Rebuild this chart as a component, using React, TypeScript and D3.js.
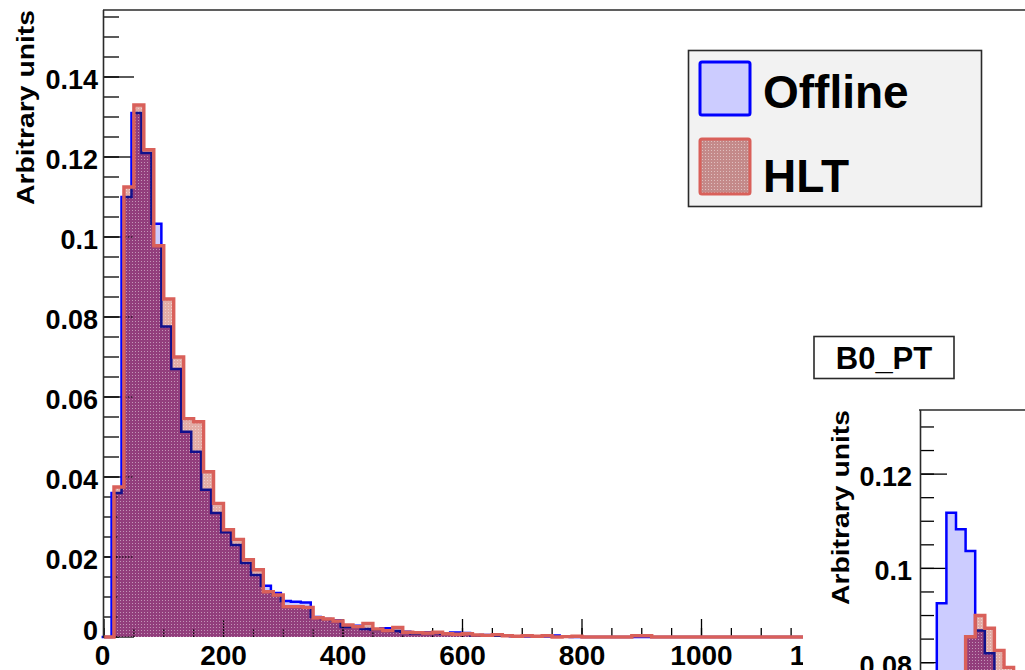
import React from "react";
import * as d3 from "d3";

// ---------- data ----------
const BIN_COUNT = 72;
const X_MIN = 0;
const X_BINNED_MAX = 1200;
const X_AXIS_MAX = 2000;
const X_LABEL_MAX = 1200;
const Y_MAX = 0.15675;

// Offline (blue) and HLT (red) normalized B0 pT histograms, 72 bins over 0..1200
const offline = [
  0, 0.036, 0.11, 0.131, 0.121, 0.1033, 0.0776, 0.067, 0.0513, 0.0463,
  0.0368, 0.031, 0.0262, 0.023, 0.0185, 0.0155, 0.0128, 0.011, 0.009, 0.0088,
  0.0086, 0.005, 0.0045, 0.0042, 0.0025, 0.0028, 0.002, 0.0018, 0.0022, 0.0015,
  0.0013, 0.0009, 0.0012, 0.001, 0.0008, 0.0011, 0.001, 0.0004, 0.0005, 0.0003,
  0.0004, 0.0002, 0.0001, 0.0002, 0.0001, 0.0004, 0.0001, 0, 0, 0,
  0, 0, 0, 0, 0, 0, 0, 0, 0, 0,
  0, 0, 0, 0, 0, 0, 0, 0, 0, 0,
  0, 0,
];
const hlt = [
  0, 0.0375, 0.1125, 0.133, 0.1218, 0.0978, 0.0845, 0.07, 0.0546, 0.0538,
  0.0413, 0.0334, 0.0268, 0.0244, 0.0193, 0.0168, 0.0113, 0.0105, 0.0076, 0.0076,
  0.0074, 0.0048, 0.0045, 0.004, 0.003, 0.0026, 0.0034, 0.002, 0.0016, 0.0024,
  0.0012, 0.0011, 0.001, 0.0012, 0.0008, 0.0007, 0.0008, 0.0005, 0.0004, 0.0006,
  0.0003, 0.0002, 0.0003, 0.0002, 0.0003, 0, 0.0001, 0.0002, 0, 0,
  0, 0, 0, 0.0003, 0.0003, 0, 0, 0, 0, 0,
  0, 0, 0, 0, 0, 0, 0, 0, 0, 0,
  0, 0,
];
const OFFLINE_SHIFT = -4; // drawing offset of the Offline histogram (x units)

const xMajorTicks = d3.range(0, X_LABEL_MAX + 1, 200);
const xMinorTicks = d3.range(0, X_LABEL_MAX + 1, 50);
const yMajorTicks = [0, 0.02, 0.04, 0.06, 0.08, 0.1, 0.12, 0.14];
const yMinorTicks = d3.range(0, 0.1551, 0.005);
const yTickLabels = ["0", "0.02", "0.04", "0.06", "0.08", "0.1", "0.12", "0.14"];

const legendEntries = ["Offline", "HLT"];
const yTitle = "Arbitrary units";
const insetTitle = "B0_PT";

// inset (second pad) data
const insetOffline = [0.0926, 0.1118, 0.1083, 0.1037, 0.0868, 0.082, 0.078, 0.072, 0.068, 0.064];
const insetHlt = [0, 0, 0, 0.0855, 0.09, 0.0873, 0.0826, 0.079, 0.075, 0.07];
const insetYMajor = [0.08, 0.1, 0.12];
const insetYLabels = ["0.08", "0.1", "0.12"];
const insetYMinor = d3.range(0.06, 0.1336, 0.005);
const INSET_BIN_START = 1.75;
const INSET_Y_MAX = 0.1336;

// ---------- styles ----------
const FONT = "'Liberation Sans', Arial, Helvetica, sans-serif";
const BLUE = "#0000ff";
const NAVY = "#10108c";
const BLUE_FILL = "#ccccff";
const RED = "#d9605a";
const PINK_FILL = "rgb(226,172,166)";
const PURPLE_FILL = "rgb(146,62,124)";
const FRAME = "#2a2a2a";

type Pt = [number, number];

function stepPoints(values: number[], start: number, width: number): Pt[] {
  const pts: Pt[] = [[start, 0]];
  values.forEach((v, i) => pts.push([start + i * width, v]));
  const end = start + values.length * width;
  pts.push([end, values[values.length - 1]]);
  pts.push([end, 0]);
  return pts;
}

export default function App() {
  // main pad scales
  const x = d3.scaleLinear().domain([X_MIN, X_AXIS_MAX]).range([104, 104 + 0.5975 * X_AXIS_MAX]);
  const y = d3.scaleLinear().domain([0, Y_MAX]).range([637, 10]);
  const binW = (X_BINNED_MAX - X_MIN) / BIN_COUNT;

  const line = d3
    .line<Pt>()
    .x((d) => x(d[0]))
    .y((d) => y(d[1]))
    .curve(d3.curveStepAfter);
  const area = d3
    .area<Pt>()
    .x((d) => x(d[0]))
    .y0(y(0))
    .y1((d) => y(d[1]))
    .curve(d3.curveStepAfter);

  const offPts = stepPoints(offline, X_MIN + OFFLINE_SHIFT, binW);
  const hltPts = stepPoints(hlt, X_MIN, binW);
  const offLine = line(offPts) || "";
  const offArea = area(offPts) || "";
  const hltLine = line(hltPts) || "";
  const hltArea = area(hltPts) || "";

  // inset scales
  const ix = d3.scaleLinear().domain([0, 11]).range([920, 920 + 9.6 * 11]);
  const iy = d3.scaleLinear().domain([0, INSET_Y_MAX]).range([568.3 + 0.1 * 4715, 410]);
  const iline = d3
    .line<Pt>()
    .x((d) => ix(d[0]))
    .y((d) => iy(d[1]))
    .curve(d3.curveStepAfter);
  const iarea = d3
    .area<Pt>()
    .x((d) => ix(d[0]))
    .y0(iy(0))
    .y1((d) => iy(d[1]))
    .curve(d3.curveStepAfter);
  const iOffPts = stepPoints(insetOffline, INSET_BIN_START, 1);
  const iHltPts = stepPoints(insetHlt, INSET_BIN_START, 1);

  const axisTicks = (dotted: boolean) => (
    <g stroke="#000" strokeWidth={dotted ? 1.2 : 1.3} strokeDasharray={dotted ? "1.5 1.5" : undefined}>
      {yMinorTicks.map((t, i) => (
        <line key={"ym" + i} x1={104} x2={119} y1={y(t)} y2={y(t)} />
      ))}
      {yMajorTicks.map((t, i) => (
        <line key={"yM" + i} x1={104} x2={134} y1={y(t)} y2={y(t)} />
      ))}
      {xMinorTicks.map((t, i) => (
        <line key={"xm" + i} x1={x(t)} x2={x(t)} y1={637} y2={628} />
      ))}
      {xMajorTicks.map((t, i) => (
        <line key={"xM" + i} x1={x(t)} x2={x(t)} y1={637} y2={619} />
      ))}
    </g>
  );

  return (
    <svg
      width={1025}
      height={670}
      style={{ position: "absolute", left: 0, top: 0, background: "#fff" }}
      fontFamily={FONT}
      fontWeight="bold"
    >
      <defs>
        <pattern id="dotPat" width={3} height={3} patternUnits="userSpaceOnUse">
          <rect x={0} y={0} width={1} height={1} fill="#fff" opacity={0.45} />
        </pattern>
        <clipPath id="offClip">
          <path d={offArea} />
        </clipPath>
        <clipPath id="hltClip">
          <path d={hltArea} />
        </clipPath>
        <clipPath id="iOffClip">
          <path d={iarea(iOffPts) || ""} />
        </clipPath>
        <clipPath id="iHltClip">
          <path d={iarea(iHltPts) || ""} />
        </clipPath>
        <clipPath id="insetFrame">
          <rect x={920} y={410} width={200} height={400} />
        </clipPath>
      </defs>

      {/* ---------- main pad ---------- */}
      {axisTicks(false)}

      {/* Offline */}
      <path d={offArea} fill={BLUE_FILL} />
      <path d={offLine} fill="none" stroke={BLUE} strokeWidth={2.5} />

      {/* HLT fill (hatched look) */}
      <path d={hltArea} fill={PINK_FILL} />
      <g clipPath="url(#offClip)">
        <path d={hltArea} fill={PURPLE_FILL} />
      </g>
      <path d={hltArea} fill="url(#dotPat)" />
      <g clipPath="url(#hltClip)">
        <path d={offLine} fill="none" stroke={NAVY} strokeWidth={2.5} />
        {axisTicks(true)}
      </g>
      <path d={hltLine} fill="none" stroke={RED} strokeWidth={3.4} />

      {/* frame */}
      <line x1={103} x2={1025} y1={10} y2={10} stroke={FRAME} strokeWidth={1.6} />
      <line x1={103.5} x2={103.5} y1={10} y2={638} stroke={FRAME} strokeWidth={1.6} />

      {/* y tick labels */}
      <g fontSize={27} textAnchor="end" fill="#000">
        {yMajorTicks.map((t, i) => (
          <text key={"yl" + i} x={98} y={y(t) + (t === 0 ? 3 : 12)}>
            {yTickLabels[i]}
          </text>
        ))}
      </g>
      {/* x tick labels */}
      <g fontSize={28} textAnchor="middle" fill="#000">
        {xMajorTicks.map((t, i) => (
          <text key={"xl" + i} x={x(t) - (t === 0 ? 1.5 : 0)} y={665}>
            {d3.format("d")(t)}
          </text>
        ))}
      </g>
      {/* y title */}
      <text
        transform={`translate(34,10) rotate(-90)`}
        textAnchor="end"
        fontSize={23}
        textLength={195}
        lengthAdjust="spacingAndGlyphs"
      >
        {yTitle}
      </text>

      {/* legend */}
      <rect x={688.5} y={50.5} width={293} height={156} fill="#f2f2f2" stroke={FRAME} strokeWidth={1.6} />
      <rect x={700} y={62} width={50} height={53} rx={2} fill={BLUE_FILL} stroke={BLUE} strokeWidth={3} />
      <rect x={700} y={139} width={50} height={55} rx={2} fill="rgb(196,138,138)" stroke={RED} strokeWidth={3} />
      <rect x={701.5} y={140.5} width={47} height={52} fill="url(#dotPat)" />
      <text x={763} y={108} fontSize={46}>
        {legendEntries[0]}
      </text>
      <text x={763} y={192} fontSize={46}>
        {legendEntries[1]}
      </text>

      {/* ---------- overlapping second pad ---------- */}
      <rect x={803} y={230} width={222} height={440} fill="#fff" />
      <rect x={814} y={336.5} width={140} height={42} fill="#fff" stroke={FRAME} strokeWidth={1.6} />
      <text x={884} y={369} fontSize={31} textAnchor="middle">
        {insetTitle}
      </text>

      {/* inset ticks */}
      <g stroke="#000" strokeWidth={1.3}>
        {insetYMinor.map((t, i) => (
          <line key={"im" + i} x1={920} x2={934} y1={iy(t)} y2={iy(t)} />
        ))}
        {insetYMajor.map((t, i) => (
          <line key={"iM" + i} x1={920} x2={947} y1={iy(t)} y2={iy(t)} />
        ))}
      </g>
      <g clipPath="url(#insetFrame)">
        <path d={iarea(iOffPts) || ""} fill={BLUE_FILL} />
        <path d={iline(iOffPts) || ""} fill="none" stroke={BLUE} strokeWidth={2.5} />
        <path d={iarea(iHltPts) || ""} fill={PINK_FILL} />
        <g clipPath="url(#iOffClip)">
          <path d={iarea(iHltPts) || ""} fill={PURPLE_FILL} />
        </g>
        <path d={iarea(iHltPts) || ""} fill="url(#dotPat)" />
        <g clipPath="url(#iHltClip)">
          <path d={iline(iOffPts) || ""} fill="none" stroke={NAVY} strokeWidth={2.5} />
        </g>
        <path d={iline(iHltPts) || ""} fill="none" stroke={RED} strokeWidth={3.4} />
      </g>
      <line x1={919} x2={1025} y1={410} y2={410} stroke={FRAME} strokeWidth={1.6} />
      <line x1={920.5} x2={920.5} y1={410} y2={670} stroke={FRAME} strokeWidth={1.6} />
      <g fontSize={27} textAnchor="end" fill="#000">
        {insetYMajor.map((t, i) => (
          <text key={"il" + i} x={912} y={iy(t) + 12}>
            {insetYLabels[i]}
          </text>
        ))}
      </g>
      <text
        transform={`translate(849,410) rotate(-90)`}
        textAnchor="end"
        fontSize={23}
        textLength={195}
        lengthAdjust="spacingAndGlyphs"
      >
        {yTitle}
      </text>
    </svg>
  );
}
